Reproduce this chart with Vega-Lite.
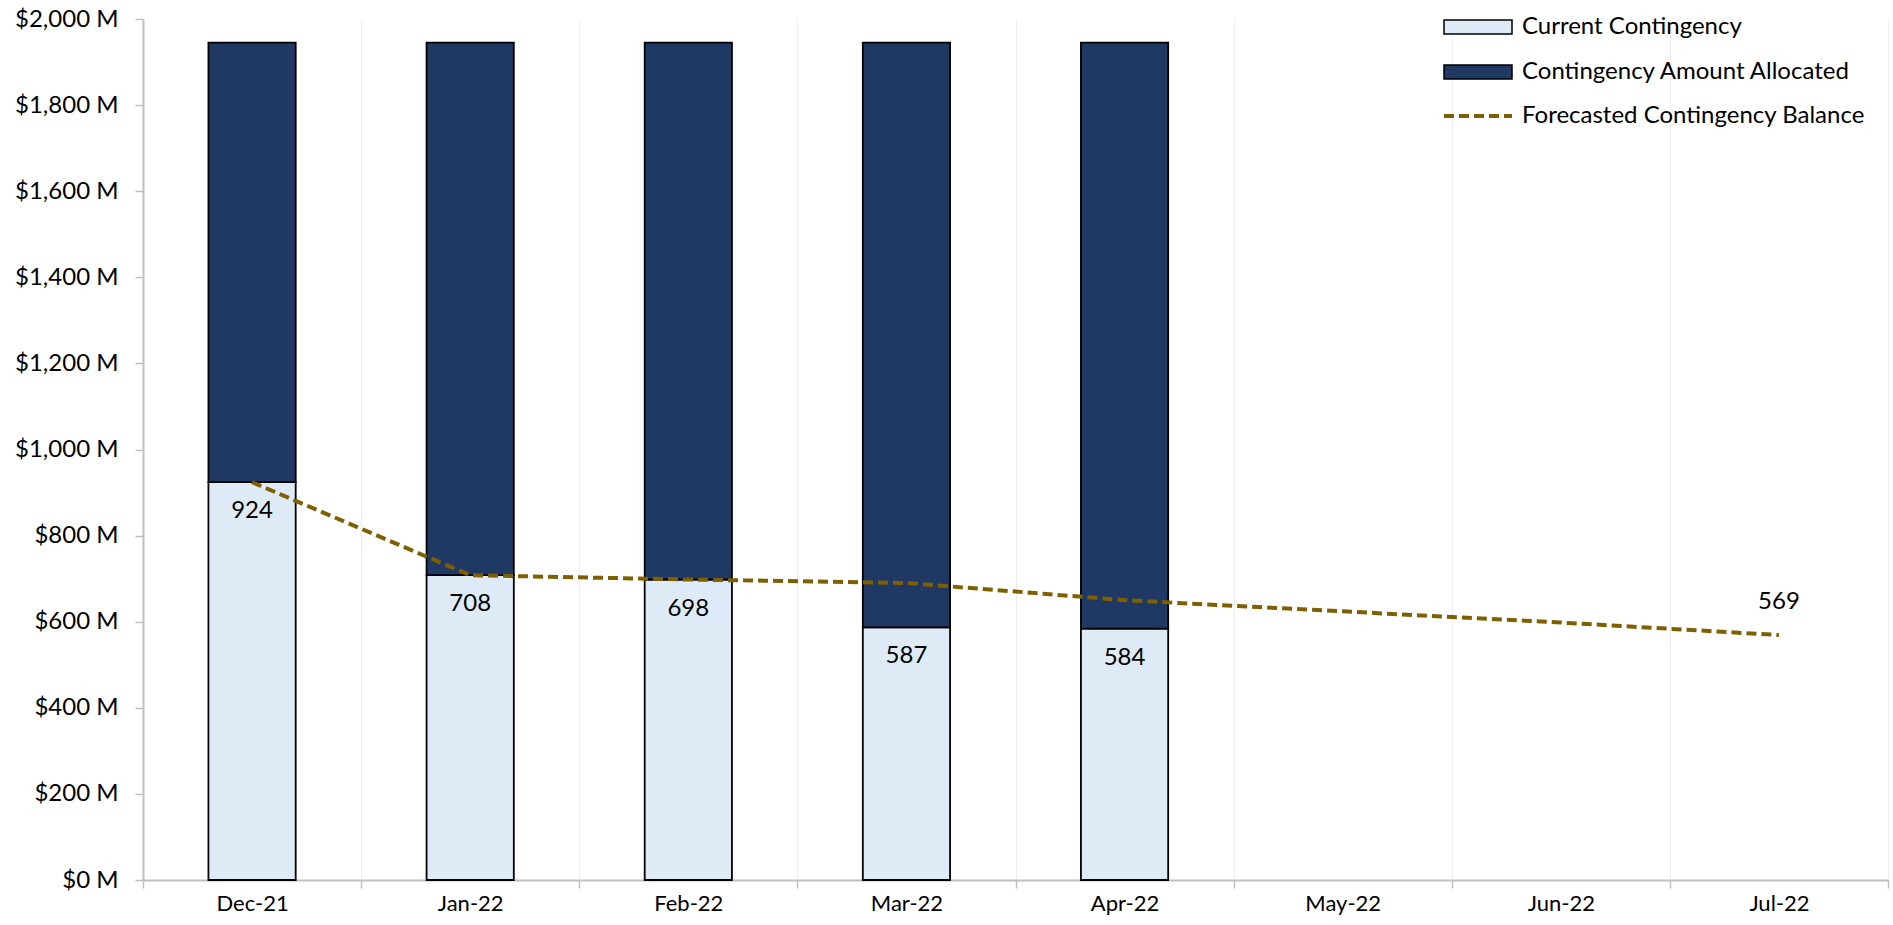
{
  "$schema": "https://vega.github.io/schema/vega-lite/v6.json",
  "width": 1745,
  "height": 861,
  "autosize": {"type": "none"},
  "padding": {"left": 143, "top": 19, "right": 5, "bottom": 45},
  "background": "white",
  "config": {
    "font": "Lato",
    "view": {"stroke": null},
    "legend": {
      "orient": "none",
      "title": null,
      "padding": 0,
      "labelFont": "Lato",
      "labelFontSize": 24,
      "labelColor": "black",
      "labelLimit": 500,
      "symbolSize": 400,
      "labelOffset": 32,
      "rowPadding": 21
    }
  },
  "datasets": {
    "bars": [
      {"month": "Dec-21", "series": "Current Contingency", "value": 924, "stackorder": 1},
      {"month": "Dec-21", "series": "Contingency Amount Allocated", "value": 1021, "stackorder": 2},
      {"month": "Jan-22", "series": "Current Contingency", "value": 708, "stackorder": 1},
      {"month": "Jan-22", "series": "Contingency Amount Allocated", "value": 1237, "stackorder": 2},
      {"month": "Feb-22", "series": "Current Contingency", "value": 698, "stackorder": 1},
      {"month": "Feb-22", "series": "Contingency Amount Allocated", "value": 1247, "stackorder": 2},
      {"month": "Mar-22", "series": "Current Contingency", "value": 587, "stackorder": 1},
      {"month": "Mar-22", "series": "Contingency Amount Allocated", "value": 1358, "stackorder": 2},
      {"month": "Apr-22", "series": "Current Contingency", "value": 584, "stackorder": 1},
      {"month": "Apr-22", "series": "Contingency Amount Allocated", "value": 1361, "stackorder": 2}
    ],
    "forecast": [
      {"month": "Dec-21", "series": "Forecasted Contingency Balance", "value": 924},
      {"month": "Jan-22", "series": "Forecasted Contingency Balance", "value": 708},
      {"month": "Feb-22", "series": "Forecasted Contingency Balance", "value": 698},
      {"month": "Mar-22", "series": "Forecasted Contingency Balance", "value": 690},
      {"month": "Apr-22", "series": "Forecasted Contingency Balance", "value": 650},
      {"month": "May-22", "series": "Forecasted Contingency Balance", "value": 624},
      {"month": "Jun-22", "series": "Forecasted Contingency Balance", "value": 598},
      {"month": "Jul-22", "series": "Forecasted Contingency Balance", "value": 569}
    ]
  },
  "encoding": {
    "x": {
      "field": "month",
      "type": "nominal",
      "sort": null,
      "scale": {
        "domain": ["Dec-21", "Jan-22", "Feb-22", "Mar-22", "Apr-22", "May-22", "Jun-22", "Jul-22"],
        "paddingInner": 0,
        "paddingOuter": 0
      },
      "axis": {
        "title": null,
        "labelAngle": 0,
        "labelFont": "Lato",
        "labelFontSize": 22,
        "labelColor": "black",
        "labelPadding": 5,
        "tickBand": "extent",
        "tickSize": 8,
        "tickColor": "#bfbfbf",
        "tickWidth": 1.5,
        "domainColor": "#bfbfbf",
        "domainWidth": 2,
        "grid": true,
        "gridColor": "#eeeeee",
        "gridWidth": 1
      }
    }
  },
  "layer": [
    {
      "data": {"name": "bars"},
      "mark": {"type": "bar", "stroke": "black", "strokeWidth": 1.8, "width": {"band": 0.4}},
      "encoding": {
        "y": {
          "field": "value",
          "type": "quantitative",
          "stack": "zero",
          "scale": {"domain": [0, 2000], "nice": false},
          "axis": {
            "title": null,
            "values": [0, 200, 400, 600, 800, 1000, 1200, 1400, 1600, 1800, 2000],
            "labelExpr": "'$' + format(datum.value, ',') + ' M'",
            "labelFont": "Lato",
            "labelFontSize": 24,
            "labelColor": "black",
            "labelPadding": 17,
            "tickSize": 8,
            "tickColor": "#bfbfbf",
            "tickWidth": 1.5,
            "domainColor": "#bfbfbf",
            "domainWidth": 2,
            "grid": false
          }
        },
        "fill": {
          "field": "series",
          "type": "nominal",
          "scale": {
            "domain": ["Current Contingency", "Contingency Amount Allocated"],
            "range": ["#DEEBF7", "#203864"]
          },
          "legend": {
            "legendX": 1323,
            "legendY": -4,
            "symbolType": "M-3.4,-0.7H3.4V0.7H-3.4Z",
            "symbolStrokeColor": "black",
            "symbolStrokeWidth": 1.5,
            "symbolOpacity": 1
          }
        },
        "order": {"field": "stackorder", "type": "quantitative"}
      }
    },
    {
      "data": {"name": "forecast"},
      "mark": {"type": "line", "strokeWidth": 4, "strokeDash": [10, 5]},
      "encoding": {
        "y": {"field": "value", "type": "quantitative"},
        "stroke": {
          "field": "series",
          "type": "nominal",
          "scale": {"domain": ["Forecasted Contingency Balance"], "range": ["#7F6000"]},
          "legend": {
            "legendX": 1323,
            "legendY": 85,
            "symbolType": "M-3.4,0H3.4",
            "symbolStrokeWidth": 4,
            "symbolDash": [10, 5],
            "symbolFillColor": "transparent"
          }
        }
      }
    },
    {
      "data": {"name": "bars"},
      "transform": [{"filter": "datum.series == 'Current Contingency'"}],
      "mark": {"type": "text", "baseline": "middle", "align": "center", "dy": 29, "fontSize": 24, "font": "Lato", "color": "black"},
      "encoding": {
        "y": {"field": "value", "type": "quantitative"},
        "text": {"field": "value", "type": "quantitative"}
      }
    },
    {
      "data": {"name": "forecast"},
      "transform": [{"filter": "datum.month == 'Jul-22'"}],
      "mark": {"type": "text", "baseline": "middle", "align": "center", "dy": -33, "fontSize": 24, "font": "Lato", "color": "black"},
      "encoding": {
        "y": {"field": "value", "type": "quantitative"},
        "text": {"field": "value", "type": "quantitative"}
      }
    }
  ]
}
